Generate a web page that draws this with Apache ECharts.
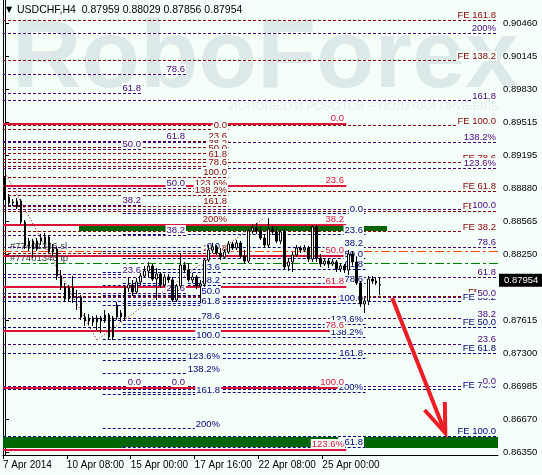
<!DOCTYPE html>
<html>
<head>
<meta charset="utf-8">
<script src="https://cdn.jsdelivr.net/npm/echarts@6/dist/echarts.min.js"></script>
<style>
html,body{margin:0;padding:0;background:#F5FFFA;}
#chart{width:542px;height:475px;}
</style>
</head>
<body>
<div id="chart"></div>
<script>
// ---------- instrument header ----------
const symbolName = 'USDCHF,H4';
const headerOHLC = [0.87959, 0.88029, 0.87856, 0.87954];

// ---------- time axis ----------
const dateLabels = ['7 Apr 2014', '10 Apr 08:00', '15 Apr 00:00', '17 Apr 16:00', '22 Apr 08:00', '25 Apr 00:00'];
const barsPerDateLabel = 16;
const slotCount = 124;           // bars that fit the window, incl. empty space on the right

// ---------- H4 candles ----------
const opens = [
  0.88951,0.88798,0.88740,0.88702,0.88760,0.88558,0.88329,0.88376,0.88300,0.88376,
  0.88348,0.88415,0.88271,0.88300,0.88041,0.87936,0.87821,0.87926,0.87830,0.87840,
  0.87648,0.87610,0.87639,0.87601,0.87639,0.87610,0.87667,0.87457,0.87763,0.87648,
  0.87648,0.87926,0.87955,0.87888,0.87984,0.88041,0.88089,0.88137,0.88012,0.88060,
  0.87955,0.88031,0.88003,0.87811,0.87945,0.88146,0.88098,0.88003,0.88031,0.87945,
  0.87964,0.88194,0.88290,0.88319,0.88261,0.88223,0.88271,0.88348,0.88309,0.88357,
  0.88232,0.88184,0.88472,0.88501,0.88472,0.88405,0.88338,0.88491,0.88463,0.88376,
  0.88463,0.88137,0.88175,0.88242,0.88309,0.88290,0.88309,0.88204,0.88510,0.88213,
  0.88156,0.88184,0.88156,0.88175,0.88108,0.88137,0.88098,0.88252,0.88175,0.87974,
  0.87773,0.87801,0.88012,0.87993,0.87959
];
const highs = [
  0.88999,0.88827,0.88779,0.88788,0.88779,0.88577,0.88405,0.88396,0.88405,0.88444,
  0.88453,0.88434,0.88348,0.88319,0.88098,0.87974,0.87955,0.88041,0.87907,0.87859,
  0.87686,0.87677,0.87658,0.87667,0.87658,0.87715,0.87686,0.87658,0.87792,0.87715,
  0.87945,0.88031,0.88003,0.88022,0.88070,0.88137,0.88175,0.88156,0.88118,0.88079,
  0.88060,0.88060,0.88031,0.87964,0.88261,0.88175,0.88165,0.88070,0.88050,0.88003,
  0.88213,0.88338,0.88357,0.88338,0.88309,0.88300,0.88376,0.88367,0.88386,0.88376,
  0.88290,0.88491,0.88539,0.88548,0.88510,0.88444,0.88596,0.88520,0.88501,0.88482,
  0.88491,0.88213,0.88271,0.88338,0.88329,0.88338,0.88329,0.88529,0.88529,0.88252,
  0.88213,0.88204,0.88204,0.88194,0.88165,0.88156,0.88290,0.88280,0.88223,0.87993,
  0.87830,0.88041,0.88041,0.88031,0.88029
];
const lows = [
  0.88769,0.88702,0.88712,0.88683,0.88539,0.88300,0.88280,0.88213,0.88280,0.88338,
  0.88319,0.88252,0.88232,0.88003,0.87907,0.87792,0.87801,0.87782,0.87715,0.87620,
  0.87562,0.87572,0.87562,0.87524,0.87495,0.87591,0.87428,0.87428,0.87620,0.87601,
  0.87620,0.87888,0.87849,0.87869,0.87955,0.88022,0.88031,0.87993,0.87811,0.87926,
  0.87936,0.87974,0.87792,0.87792,0.87926,0.88079,0.87984,0.87974,0.87916,0.87782,
  0.87936,0.88175,0.88261,0.88242,0.88194,0.88204,0.88252,0.88290,0.88290,0.88213,
  0.88156,0.88165,0.88444,0.88444,0.88386,0.88309,0.88319,0.88434,0.88357,0.88348,
  0.88108,0.88089,0.88079,0.88223,0.88261,0.88271,0.88175,0.88175,0.88175,0.88127,
  0.88137,0.88118,0.88137,0.88079,0.88079,0.88070,0.88050,0.88146,0.87955,0.87744,
  0.87686,0.87763,0.87964,0.87955,0.87856
];
const closes = [
  0.88798,0.88740,0.88750,0.88760,0.88558,0.88329,0.88376,0.88300,0.88376,0.88405,
  0.88415,0.88271,0.88300,0.88041,0.87936,0.87821,0.87926,0.87830,0.87840,0.87648,
  0.87610,0.87639,0.87601,0.87639,0.87610,0.87667,0.87457,0.87639,0.87648,0.87686,
  0.87926,0.87955,0.87888,0.87984,0.88041,0.88089,0.88137,0.88012,0.88060,0.87955,
  0.88031,0.88003,0.87811,0.87945,0.88146,0.88098,0.88003,0.88031,0.87945,0.87964,
  0.88194,0.88290,0.88319,0.88261,0.88223,0.88271,0.88348,0.88309,0.88357,0.88232,
  0.88184,0.88472,0.88501,0.88472,0.88405,0.88338,0.88491,0.88463,0.88376,0.88463,
  0.88127,0.88175,0.88242,0.88309,0.88290,0.88309,0.88204,0.88510,0.88213,0.88156,
  0.88184,0.88156,0.88175,0.88108,0.88137,0.88098,0.88252,0.88175,0.87974,0.87773,
  0.87801,0.88012,0.87993,0.87974,0.87954
];

// ---------- price axis ----------
const priceMin = 0.86326;
const priceMax = 0.90685;
const priceTicks = [0.90460, 0.90145, 0.89830, 0.89515, 0.89195, 0.88880, 0.88565,
                    0.88250, 0.87615, 0.87300, 0.86985, 0.86670, 0.86350];
const lastPrice = 0.87954;

// ---------- Fibonacci tools ----------
const retraceLevels = [0, 23.6, 38.2, 50, 61.8, 78.6, 100, 123.6, 138.2, 161.8, 200, 261.8];
const retraceTexts  = ['0.0', '23.6', '38.2', '50.0', '61.8', '78.6', '100.0', '123.6%', '138.2%', '161.8', '200%', '261.8'];
const expansionLevels = [0, 38.2, 50, 61.8, 78.6, 100, 138.2, 161.8];
const expansionTexts  = ['FE 0.0', 'FE 38.2', 'FE 50.0', 'FE 61.8', 'FE 78.6', 'FE 100.0', 'FE 138.2', 'FE 161.8'];
const lowerExpLevels = [38.2, 50, 61.8, 78.6, 100];
const lowerExpTexts  = ['FE 38.2', 'FE 50.0', 'FE 61.8', 'FE 78.6', 'FE 100.0'];
const shortLevels = [0, 23.6, 38.2, 50, 61.8, 78.6];
const shortTexts  = ['0.0', '23.6', '38.2', '50.0', '61.8', '78.6'];
const crimsonLevels = [0, 23.6, 38.2, 50, 61.8, 78.6, 100, 123.6];
const crimsonTexts  = ['0.0', '23.6', '38.2', '50.0', '61.8', '78.6', '100.0', '123.6%'];

// anchors: bar range (from/to) and the 0% / 100% prices
const fibTools = [
  { kind: 'feRed',  from: -0.5, to: 123.5, p0: 0.87840, p100: 0.89478, levels: expansionLevels, texts: expansionTexts },
  { kind: 'feNavy', from: -0.5, to: 123.5, p0: 0.88587, p100: 0.86508, levels: lowerExpLevels,  texts: lowerExpTexts },
  { kind: 'indigo', from: -0.5, to: 123.5, p0: 0.86987, p100: 0.88676, levels: retraceLevels,   texts: retraceTexts },
  { kind: 'maroon', from: -0.5, to: 56.0,  p0: 0.89440, p100: 0.88989, levels: retraceLevels,   texts: retraceTexts },
  { kind: 'navy',   from: 24.5, to: 54.3,  p0: 0.88280, p100: 0.87428, levels: retraceLevels,   texts: retraceTexts },
  { kind: 'navy',   from: 29.5, to: 90.3,  p0: 0.88635, p100: 0.87782, levels: retraceLevels,   texts: retraceTexts },
  { kind: 'indigo', from: -0.5, to: 34.5,  p0: 0.86977, p100: 0.91535, levels: shortLevels.slice(0, 5), texts: shortTexts.slice(0, 5) },
  { kind: 'indigo', from: -0.5, to: 45.5,  p0: 0.86977, p100: 0.90790, levels: shortLevels,     texts: shortTexts },
  { kind: 'crimson',from: -0.5, to: 85.5,  p0: 0.89497, p100: 0.86968, levels: crimsonLevels,   texts: crimsonTexts }
];

// order lines (stop / take)
const orderPrices = [0.88271, 0.88156];
const orderTexts  = ['#77401346 sl', '#77401346 tp'];
const orderKinds  = ['stop', 'take'];

// target zones: bar range and price band
const zoneFrom   = [18.5, -0.5];
const zoneTo     = [95.7, 123.5];
const zoneTop    = [0.88520, 0.86508];
const zoneBottom = [0.88463, 0.86393];

// swing lines joining the Fibonacci anchors
const swingLines = [
  [0, 0.89028, 23, 0.87428],
  [23, 0.87428, 65, 0.88597]
];

// forecast arrow
const forecastArrow = [97, 0.87830, 110.3, 0.86537];

// ---------- look ----------
const BG = '#F5FFFA';
const FONT_FAMILY = '"Liberation Sans", Arial, sans-serif';
const FONT_SIZE = 9.5;
const LABEL_FONT = FONT_SIZE + 'px ' + FONT_FAMILY;
const STYLE = {
  feRed:   { color: '#8B0000', width: 1, dash: [3, 2] },
  feNavy:  { color: '#000080', width: 1, dash: [3, 2] },
  indigo:  { color: '#4B0082', width: 1, dash: [3, 2] },
  maroon:  { color: '#8B0000', width: 1, dash: [3, 2] },
  navy:    { color: '#000080', width: 1, dash: [3, 2] },
  crimson: { color: '#DC143C', width: 2, dash: null },
  stop:    { color: '#FF4500', width: 1, dash: [9, 3, 3, 3] },
  take:    { color: '#008000', width: 1, dash: [9, 3, 3, 3] }
};

// ---------- derived rows ----------
const categories = [];
for (let i = 0; i < slotCount; i++) categories.push('b' + i);
const candleData = opens.map((o, i) => [o, closes[i], lows[i], highs[i]]);
const dateTickValues = dateLabels.map((_, k) => k * barsPerDateLabel - 0.5);

const levelRows = [];
fibTools.filter(t => t.kind !== 'crimson').concat(fibTools.filter(t => t.kind === 'crimson')).forEach(t => {
  t.levels.forEach((l, j) => {
    levelRows.push({ from: t.from, to: t.to, price: t.p0 + (t.p100 - t.p0) * l / 100, text: t.texts[j], kind: t.kind, align: 'right' });
  });
});
const orderRows = orderPrices.map((p, k) => ({ from: -0.5, to: 123.5, price: p, text: orderTexts[k], kind: orderKinds[k], align: 'left' }));
const lineRows = orderRows.concat(levelRows);
const labelRows = levelRows.concat(orderRows);

function crisp(y, w) { return w % 2 ? Math.round(y - 0.5) + 0.5 : Math.round(y); }

const chart = echarts.init(document.getElementById('chart'), null, { renderer: 'canvas' });

chart.setOption({
  animation: false,
  backgroundColor: BG,
  grid: { left: 3, right: 44, top: 0, bottom: 20, containLabel: false, outerBoundsMode: 'none' },
  graphic: [
    { type: 'text', z: 0, silent: true, x: 12, y: 61,
      style: { text: 'RoboForex', font: 'bold 96px "Liberation Sans", Arial, sans-serif', fill: '#DDE9E9', verticalAlign: 'middle' } },
    { type: 'text', z: 0, silent: true, x: 364, y: 107,
      style: { text: 'ИСПОЛЬЗУЙ РОБОТОВ – ПОЛУЧАЙ ПРИБЫЛЬ', font: '12px "Liberation Sans", Arial, sans-serif', fill: '#E4EEEE', align: 'center', verticalAlign: 'middle' } },
    { type: 'text', z: 10, silent: true, x: 6, y: 10,
      style: { text: '▼', font: '8px "DejaVu Sans", sans-serif', fill: '#000', verticalAlign: 'middle' } },
    { type: 'text', z: 10, silent: true, x: 17, y: 10,
      style: { text: symbolName + '  ' + headerOHLC.map(v => v.toFixed(5)).join(' '), font: '10.5px ' + FONT_FAMILY, fill: '#000', verticalAlign: 'middle' } }
  ],
  xAxis: [
    { type: 'category', data: categories, show: false, boundaryGap: true },
    { type: 'value', min: -0.5, max: slotCount - 0.5, position: 'bottom',
      axisLine: { show: true, lineStyle: { color: '#000', width: 1 } },
      axisTick: { show: true, length: 4, customValues: dateTickValues, lineStyle: { color: '#000' } },
      axisLabel: { customValues: dateTickValues, align: 'left', margin: 5, color: '#000', fontFamily: FONT_FAMILY, fontSize: 10,
        hideOverlap: false, formatter: v => dateLabels[Math.round((v + 0.5) / barsPerDateLabel)] || '' },
      splitLine: { show: false } }
  ],
  yAxis: [
    { type: 'value', position: 'right', min: priceMin, max: priceMax,
      axisLine: { show: true, lineStyle: { color: '#000' } },
      axisTick: { show: true, length: 4, customValues: priceTicks, lineStyle: { color: '#000' } },
      axisLabel: { customValues: priceTicks, formatter: v => v.toFixed(5), color: '#000', margin: 5, fontFamily: FONT_FAMILY, fontSize: FONT_SIZE },
      splitLine: { show: false } },
    { type: 'value', position: 'left', min: priceMin, max: priceMax,
      axisLine: { show: true, lineStyle: { color: '#000' } },
      axisTick: { show: false }, axisLabel: { show: false }, splitLine: { show: false } }
  ],
  series: [
    { // target zones
      type: 'custom', xAxisIndex: 1, yAxisIndex: 0, z: 2, silent: true,
      data: zoneFrom.map((f, k) => [f, zoneTo[k], zoneTop[k], zoneBottom[k]]),
      encode: { x: [0, 1], y: [2, 3] },
      renderItem: (params, api) => {
        const a = api.coord([api.value(0), api.value(2)]);
        const b = api.coord([api.value(1), api.value(3)]);
        return { type: 'rect', shape: { x: Math.round(a[0]), y: Math.round(a[1]), width: Math.round(b[0] - a[0]), height: Math.round(b[1] - a[1]) },
                 style: { fill: '#006400' } };
      }
    },
    { // Fibonacci and order levels
      type: 'custom', xAxisIndex: 1, yAxisIndex: 0, z: 3, silent: true,
      data: lineRows.map(r => [r.from, r.to, r.price]),
      encode: { x: [0, 1], y: 2 },
      renderItem: (params, api) => {
        const r = lineRows[params.dataIndex];
        const st = STYLE[r.kind];
        const a = api.coord([r.from, r.price]);
        const b = api.coord([r.to, r.price]);
        const y = crisp(a[1], st.width);
        const shape = { x1: a[0], y1: y, x2: b[0], y2: y };
        const kids = [];
        if (st.dash) kids.push({ type: 'line', shape: shape, style: { stroke: BG, lineWidth: st.width } });
        kids.push({ type: 'line', shape: shape, style: { stroke: st.color, lineWidth: st.width, lineDash: st.dash || null } });
        return { type: 'group', children: kids };
      }
    },
    { // swing lines
      type: 'custom', xAxisIndex: 1, yAxisIndex: 0, z: 3, silent: true,
      data: swingLines,
      encode: { x: [0, 2], y: [1, 3] },
      renderItem: (params, api) => {
        const a = api.coord([api.value(0), api.value(1)]);
        const b = api.coord([api.value(2), api.value(3)]);
        return { type: 'line', shape: { x1: a[0], y1: a[1], x2: b[0], y2: b[1] },
                 style: { stroke: '#8B0000', lineWidth: 1, lineDash: [1, 2] } };
      }
    },
    { // level captions
      type: 'custom', xAxisIndex: 1, yAxisIndex: 0, z: 4, silent: true,
      data: labelRows.map(r => [r.from, r.to, r.price]),
      encode: { x: [0, 1], y: 2 },
      renderItem: (params, api) => {
        const r = labelRows[params.dataIndex];
        const st = STYLE[r.kind];
        const left = r.align === 'left';
        const p = api.coord([left ? 1.2 : r.to, r.price]);
        const y = Math.round(p[1]) - (st.width > 1 ? 1 : 0);
        if (left) {
          return { type: 'text', x: Math.round(p[0]), y: y - 1,
                   style: { text: r.text, fill: '#3C3C3C', font: LABEL_FONT, align: 'left', verticalAlign: 'bottom' } };
        }
        return { type: 'text', x: Math.round(p[0]) - 1, y: y,
                 style: { text: r.text, fill: st.color, font: LABEL_FONT, align: 'right', verticalAlign: 'bottom',
                          backgroundColor: BG, padding: [0, 1, 0, 1] } };
      }
    },
    { // price bars
      type: 'candlestick', xAxisIndex: 0, yAxisIndex: 0, z: 5, silent: true,
      data: candleData, barWidth: 2,
      itemStyle: { color: '#FFFFFF', color0: '#000000', borderColor: '#000000', borderColor0: '#000000', borderWidth: 1 },
      markLine: {
        silent: true, symbol: ['none', 'none'],
        lineStyle: { color: 'rgba(0,0,0,0)', width: 1 },
        label: { show: true, position: 'end', distance: 1, formatter: () => lastPrice.toFixed(5),
                 color: '#FFFFFF', backgroundColor: '#000000', padding: [2, 5, 1, 5],
                 fontFamily: FONT_FAMILY, fontSize: FONT_SIZE },
        data: [{ yAxis: lastPrice }]
      }
    },
    { // forecast arrow
      type: 'custom', xAxisIndex: 1, yAxisIndex: 0, z: 6, silent: true,
      data: [forecastArrow],
      encode: { x: [0, 2], y: [1, 3] },
      renderItem: (params, api) => {
        const s = api.coord([api.value(0), api.value(1)]);
        const e = api.coord([api.value(2), api.value(3)]);
        const ang = Math.atan2(s[1] - e[1], s[0] - e[0]);
        const L = 31, spread = 0.36;
        const b1 = [e[0] + L * Math.cos(ang + spread), e[1] + L * Math.sin(ang + spread)];
        const b2 = [e[0] + L * Math.cos(ang - spread), e[1] + L * Math.sin(ang - spread)];
        const st = { stroke: '#EE1D25', lineWidth: 4, lineJoin: 'miter', lineCap: 'butt', fill: null };
        return { type: 'group', children: [
          { type: 'line', shape: { x1: s[0], y1: s[1], x2: e[0], y2: e[1] }, style: st },
          { type: 'polyline', shape: { points: [b1, e, b2] }, style: st }
        ] };
      }
    }
  ]
});
</script>
</body>
</html>
